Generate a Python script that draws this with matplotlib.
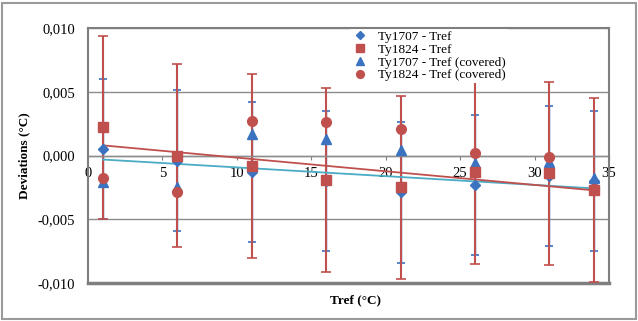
import numpy
import matplotlib
matplotlib.use('Agg')
import matplotlib.pyplot as plt
from matplotlib.patches import Rectangle
from matplotlib.ticker import FuncFormatter

plt.rcParams['font.family'] = ['Liberation Serif', 'DejaVu Serif']

# data
tref = [1, 6, 11, 16, 21, 26, 31, 34]
ty1707 = [0.0005, -0.0004, -0.0013, -0.0020, -0.0029, -0.0023, -0.0016, -0.0020]
ty1824 = [0.0022, 0.0000, -0.0008, -0.0019, -0.0025, -0.0013, -0.0014, -0.0027]
ty1707_cov = [-0.0021, -0.0025, 0.0017, 0.0013, 0.0004, -0.0006, -0.0005, -0.0018]
ty1824_cov = [-0.0018, -0.0029, 0.0027, 0.0026, 0.0021, 0.0002, -0.0001, -0.0026]
err1707 = 0.0055
err1824 = 0.0072

blue = '#3B73C1'
red = '#C0504D'
cyan = '#4BACC6'

fig = plt.figure(figsize=(6.38, 3.21), dpi=100)
ax = fig.add_axes([88/638, 1 - 283/321, (609-88)/638, (283-28)/321])

# outer chart border
fig.patches.append(Rectangle((2.5/638, 2.5/321), 633/638, 316/321, transform=fig.transFigure,
                             fill=False, edgecolor='#9a9a9a', linewidth=1.5))

ax.set_xlim(0, 35)
ax.set_ylim(-0.010, 0.010)
ax.set_yticks([-0.010, -0.005, 0.0, 0.005, 0.010])
ax.set_xticks(range(0, 36, 5))
ax.yaxis.grid(True, color='#8c8c8c', linewidth=1)
ax.set_axisbelow(True)
for s in ['left', 'right', 'top']:
    ax.spines[s].set_color('#7f7f7f')
    ax.spines[s].set_linewidth(1.5)
    ax.spines[s].set_zorder(10)
ax.spines['bottom'].set_position(('data', 0))
ax.spines['bottom'].set_color('#8c8c8c')
ax.spines['bottom'].set_linewidth(1)
# bottom frame line at -0.010
ax.axhline(-0.010, color='#7f7f7f', linewidth=2.5, clip_on=False)

ax.yaxis.set_major_formatter(FuncFormatter(lambda v, p: ('%.3f' % v).replace('.', ',').replace('-0,000', '0,000')))
ax.tick_params(axis='y', length=0, labelsize=10.5, pad=9)
ax.tick_params(axis='x', length=3, color='#7f7f7f', labelsize=10.5, pad=5)

# error bars
ax.errorbar(tref, ty1824, yerr=err1824, fmt='none', ecolor=red, elinewidth=1.5, capsize=3.5, capthick=1.2, zorder=2)
ax.errorbar(tref, ty1707, yerr=err1707, fmt='none', ecolor=blue, elinewidth=1.0, capsize=3, capthick=1.2, zorder=1.9)

# trend lines
xs = numpy.array([tref[0], tref[-1]])
p1 = numpy.polyfit(tref, ty1707, 1)
p2 = numpy.polyfit(tref, ty1824, 1)
ax.plot(xs, numpy.polyval(p1, xs), color=cyan, linewidth=1.3, zorder=3)
ax.plot(xs, numpy.polyval(p2, xs), color=red, linewidth=1.3, zorder=3)

# markers
ax.plot(tref, ty1707, 'D', color=blue, markersize=5, linestyle='none', label='Ty1707 - Tref', zorder=4)
ax.plot(tref, ty1824, 's', color=red, markersize=7, linestyle='none', label='Ty1824 - Tref', zorder=5)
ax.plot(tref, ty1707_cov, '^', color=blue, markersize=7, linestyle='none', label='Ty1707 - Tref (covered)', zorder=4)
ax.plot(tref, ty1824_cov, 'o', color=red, markersize=7, linestyle='none', label='Ty1824 - Tref (covered)', zorder=4)

leg = ax.legend(loc='upper left', bbox_to_anchor=(0.503, 0.998), fontsize=9.5, frameon=True, fancybox=False,
                edgecolor='none', framealpha=1, markerscale=0.8, handlelength=1.2, handletextpad=0.8,
                labelspacing=0.05, borderpad=0.15, borderaxespad=0.0)

ax.set_ylabel('Deviations (°C)', fontsize=9.5, fontweight='bold')
ax.yaxis.set_label_coords((30 - 88) / 521, 0.5)
fig.text(355/638, 1 - 300/321, 'Tref (°C)', ha='center', va='center', fontsize=9.5, fontweight='bold')

fig.savefig('out.png', dpi=100)
